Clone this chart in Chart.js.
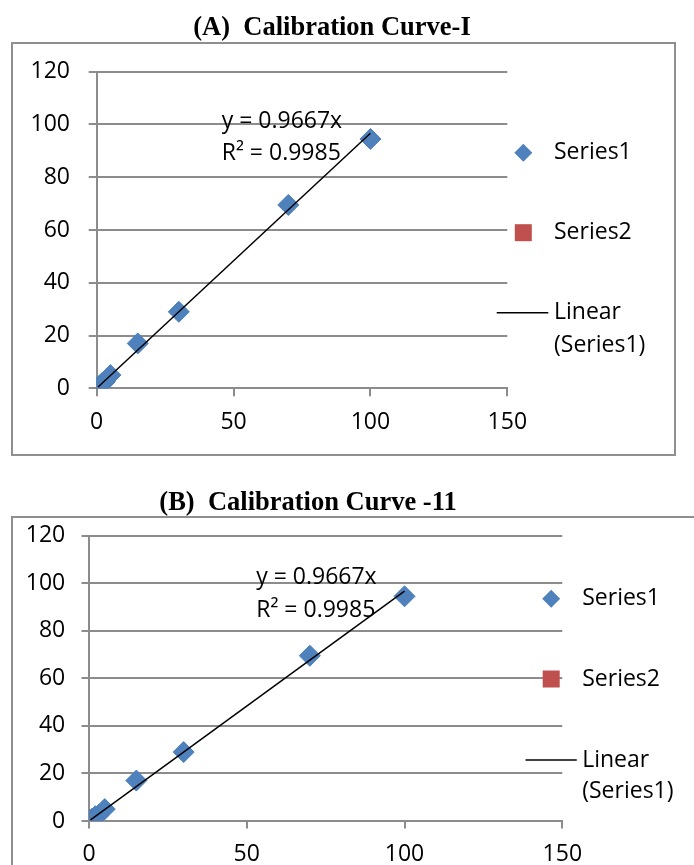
<!DOCTYPE html>
<html>
<head>
<meta charset="utf-8">
<script src="https://cdn.jsdelivr.net/npm/chart.js@4.4.1/dist/chart.umd.min.js"></script>
<style>
  html, body { margin: 0; padding: 0; background: #fff; }
  body { width: 694px; height: 865px; position: relative; overflow: hidden; }
  .frame { position: absolute; border: 2px solid #8f8f8f; box-sizing: border-box; }
  #frameA { left: 11px; top: 42px; width: 665px; height: 414px; }
  #frameB { left: 11px; top: 516px; width: 720px; height: 400px; }
  .panel { position: absolute; left: 0; width: 694px; }
  #panelA { top: 0; height: 460px; }
  #panelB { top: 460px; height: 405px; }
  canvas { display: block; }
</style>
</head>
<body>
<div id="frameA" class="frame"></div>
<div id="frameB" class="frame"></div>
<div class="panel" id="panelA"><canvas id="chartA"></canvas></div>
<div class="panel" id="panelB"><canvas id="chartB"></canvas></div>

<script>
// Standard concentrations and measured responses
const concentration = [0.3, 1, 2, 3, 5, 15, 30, 70, 100];
const response      = [0.3, 1, 2, 2.5, 5, 17, 29, 69.5, 94.5];

// Fitted linear trendline (through origin)
const slope = 0.9667;
const rSquared = 0.9985;
const trendRange = [0.5, 100];

// Axis ticks
const xTicks = [0, 50, 100, 150];
const yTicks = [0, 20, 40, 60, 80, 100, 120];

const BLUE = '#4F81BD';
const RED = '#C0504D';
const GRID = '#8c8c8c';
const SANS = '"Open Sans", "DejaVu Sans", sans-serif';
const SERIF = '"Liberation Serif", "Times New Roman", serif';

// Title, equation and legend text, drawn after the chart itself
const panelText = {
  id: 'panelText',
  afterDraw(chart, args, o) {
    const ctx = chart.ctx;
    ctx.save();
    ctx.fillStyle = '#000';
    ctx.textBaseline = 'middle';

    ctx.font = 'bold 26.5px ' + SERIF;
    ctx.textAlign = 'center';
    ctx.fillText(o.title, o.titleX, o.titleY);

    ctx.font = '23px ' + SANS;
    ctx.textAlign = 'left';
    ctx.fillText('y = ' + slope + 'x', o.eqX, o.eqY[0]);
    ctx.fillText('R\u00B2 = ' + rSquared, o.eqX, o.eqY[1]);

    // legend built from the datasets
    chart.data.datasets.forEach((ds, i) => {
      const y = o.rows[i];
      if (ds.type === 'line') {
        ctx.strokeStyle = ds.borderColor;
        ctx.lineWidth = ds.borderWidth;
        ctx.beginPath();
        ctx.moveTo(o.lineX[0], y);
        ctx.lineTo(o.lineX[1], y);
        ctx.stroke();
      } else if (ds.pointStyle === 'rectRot') {
        const r = 9;
        ctx.fillStyle = ds.backgroundColor;
        ctx.beginPath();
        ctx.moveTo(o.markX - r, y);
        ctx.lineTo(o.markX, y - r);
        ctx.lineTo(o.markX + r, y);
        ctx.lineTo(o.markX, y + r);
        ctx.closePath();
        ctx.fill();
      } else {
        const h = 8.5;
        ctx.fillStyle = ds.backgroundColor;
        ctx.fillRect(o.markX - h, y - h, 2 * h, 2 * h);
      }
      ctx.fillStyle = '#000';
      const parts = ds.label.split(' ');
      if (ds.type === 'line') {
        parts.forEach((p, k) => ctx.fillText(p, o.textX, y + k * o.lineGap));
      } else {
        ctx.fillText(ds.label, o.textX, y);
      }
    });
    ctx.restore();
  }
};

function makeChart(id, L) {
  const points = concentration.map((x, i) => ({ x: x, y: response[i] }));
  const trend = trendRange.map(x => ({ x: x, y: slope * x }));
  const tickFont = { family: SANS, size: 23 };
  return new Chart(document.getElementById(id), {
    type: 'scatter',
    data: {
      datasets: [
        { type: 'scatter', label: 'Series1', data: points, pointStyle: 'rectRot',
          pointRadius: 10.5, backgroundColor: BLUE, borderColor: '#4a7ebb', borderWidth: 1, order: 1 },
        { type: 'scatter', label: 'Series2', data: [], pointStyle: 'rect',
          backgroundColor: RED, borderColor: RED, order: 2 },
        { type: 'line', label: 'Linear (Series1)', data: trend, borderColor: '#000',
          borderWidth: 1.5, pointRadius: 0, fill: false, order: 0 }
      ]
    },
    options: {
      responsive: true,
      maintainAspectRatio: false,
      animation: false,
      events: [],
      layout: { padding: { top: L.top, right: L.right, bottom: 0, left: 0 } },
      plugins: {
        legend: { display: false },
        title: { display: false },
        tooltip: { enabled: false },
        panelText: L.text
      },
      scales: {
        x: {
          type: 'linear', min: xTicks[0], max: xTicks[xTicks.length - 1],
          afterBuildTicks: s => { s.ticks = xTicks.map(v => ({ value: v })); },
          afterFit: s => { s.height = L.xH; },
          ticks: { color: '#000', font: tickFont, padding: L.xPad, maxRotation: 0 },
          grid: { drawOnChartArea: false, drawTicks: true, tickLength: L.tick, color: GRID, lineWidth: 2 },
          border: { display: true, color: GRID, width: 2 }
        },
        y: {
          type: 'linear', min: yTicks[0], max: yTicks[yTicks.length - 1],
          afterBuildTicks: s => { s.ticks = yTicks.map(v => ({ value: v })); },
          afterFit: s => { s.width = L.yW; },
          ticks: { color: '#000', font: tickFont, padding: L.yPad },
          grid: { drawTicks: true, tickLength: L.tick, color: GRID, lineWidth: 2 },
          border: { display: true, color: GRID, width: 2 }
        }
      }
    },
    plugins: [panelText]
  });
}

makeChart('chartA', {
  top: 71.7, right: 186.7, yW: 96.7, xH: 71.7, tick: 8, yPad: 18.7, xPad: 12.6,
  text: {
    title: '(A)  Calibration Curve-I', titleX: 332, titleY: 28,
    eqX: 221.7, eqY: [121.7, 153.3],
    markX: 523.3, textX: 554, rows: [152.7, 232.7, 312.7], lineGap: 32.3,
    lineX: [496.7, 548.3]
  }
});

makeChart('chartB', {
  top: 75.7, right: 131.7, yW: 89, xH: 44, tick: 7.5, yPad: 16.3, xPad: 12.2,
  text: {
    title: '(B)  Calibration Curve -11', titleX: 308, titleY: 42.7,
    eqX: 256.2, eqY: [117.3, 150],
    markX: 551.2, textX: 582.2, rows: [138.7, 219, 300], lineGap: 31.7,
    lineX: [525.5, 576.8]
  }
});
</script>
</body>
</html>
